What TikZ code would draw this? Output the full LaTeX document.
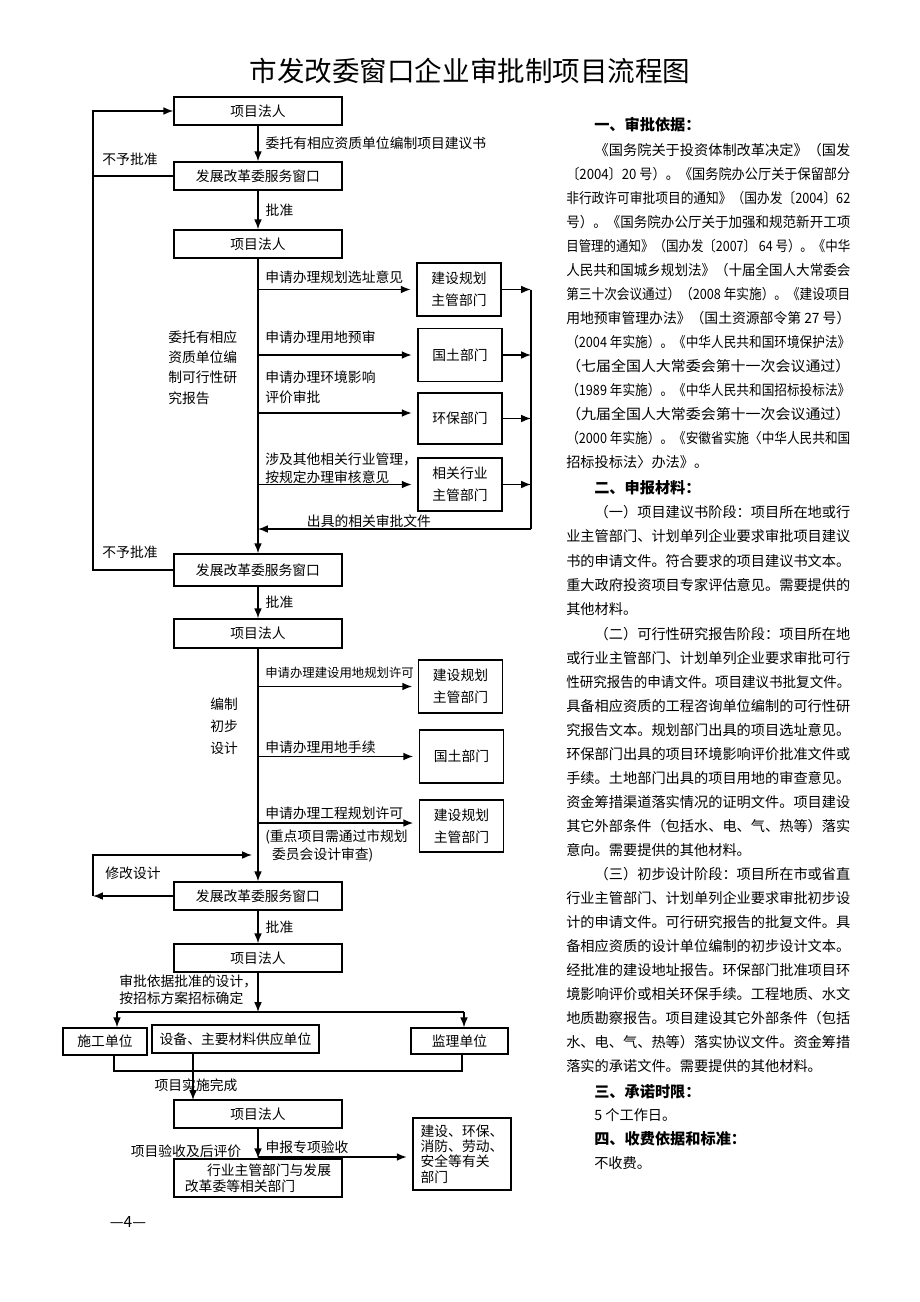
\documentclass[tikz,border=0pt]{standalone}
\usepackage{fontspec}
\usepackage{graphicx}
\setmainfont{Noto Sans CJK SC}
\usetikzlibrary{arrows.meta, positioning}

\newcommand\fcfont{\fontsize{9.8pt}{14pt}\selectfont}
\newcommand\txfont{\fontsize{10.1pt}{17.1pt}\selectfont}
\newcommand\hdfont{\fontsize{10.8pt}{13pt}\selectfont\bfseries}
\newcommand\fitline[1]{\resizebox{20em}{\height}{#1}}

\tikzset{
  flowbox/.style={draw, line width=1pt, minimum width=4.2cm, minimum height=0.7cm, inner sep=1pt, font=\fcfont},
  deptbox/.style={draw, line width=1pt, minimum width=2.1cm, minimum height=1.325cm, inner sep=1pt, align=center, font={\fontsize{9.8pt}{15.6pt}\selectfont}},
  arr/.style={-{Latex[length=7pt,width=5.5pt]}, line width=1pt},
  branch/.style={arr, shorten >=4pt},
  conn/.style={line width=1pt},
  lbl/.style={inner sep=0pt, font=\fcfont},
  para/.style={anchor=west, inner sep=0pt, align=left, font=\txfont},
  head/.style={anchor=west, inner sep=0pt, font=\hdfont},
}

\begin{document}
\begin{tikzpicture}[x=0.025cm, y=-0.025cm]
\fill[white] (0,0) rectangle (920,1302);
\useasboundingbox (0,0) rectangle (920,1302);

\node[inner sep=0pt, font={\fontsize{19.6pt}{22pt}\selectfont}] (title) at (470,71) {市发改委窗口企业审批制项目流程图};

% main column
\node[flowbox] (fr1) at (258,111) {项目法人};
\node[flowbox] (win1) at (258,176) {发展改革委服务窗口};
\node[flowbox] (fr2) at (258,244) {项目法人};
\node[flowbox, minimum height=0.8cm] (win2) at (258,570) {发展改革委服务窗口};
\node[flowbox, minimum height=0.725cm] (fr3) at (258,633.5) {项目法人};
\node[flowbox] (win3) at (258,896) {发展改革委服务窗口};
\node[flowbox] (fr4) at (258,958) {项目法人};
\node[flowbox] (fr5) at (258,1114) {项目法人};
\node[flowbox, minimum height=0.95cm, align=left, font={\fontsize{9.8pt}{11.6pt}\selectfont}] (ind) at (258,1178) {\hspace*{1.6em}行业主管部门与发展\\改革委等相关部门};

% departments
\node[deptbox] (plan1) at (459,289.5) {建设规划\\主管部门};
\node[deptbox] (land1) at (460,355) {国土部门};
\node[deptbox, minimum height=1.275cm] (env) at (460,418.5) {环保部门};
\node[deptbox] (trade) at (460,484.5) {相关行业\\主管部门};
\node[deptbox] (plan2) at (460.5,686.5) {建设规划\\主管部门};
\node[deptbox] (land2) at (461.5,756.5) {国土部门};
\node[deptbox, minimum height=1.3cm] (plan3) at (461.5,826) {建设规划\\主管部门};

% units
\node[flowbox, minimum width=2.1cm, minimum height=0.675cm] (build) at (105,1041.5) {施工单位};
\node[flowbox, minimum width=4.175cm] (supply) at (235.5,1039) {设备、主要材料供应单位};
\node[flowbox, minimum width=2.425cm, minimum height=0.65cm] (super) at (459.5,1041) {监理单位};
\node[deptbox, minimum width=2.45cm, minimum height=1.8cm, align=left, font={\fontsize{9.8pt}{10.9pt}\selectfont}] (accept) at (462,1154) {建设、环保、\\消防、劳动、\\安全等有关\\部门};

%connections: proposal stage
\draw[arr] (fr1) -- node[lbl, right=5pt] (ent1) {委托有相应资质单位编制项目建议书} (win1);
\draw[arr] (win1) -- node[lbl, right=5pt] (ok1) {批准} (fr2);
\coordinate (back) at (93,176);
\draw[arr] (win1.west) -- (back) |- (fr1.west);
\draw[conn] (win2.west) -| (back);
\node[lbl] (no1) at (130,159) {不予批准};
\node[lbl] (no2) at (130,552) {不予批准};

%connections: feasibility stage
\draw[arr] (fr2) -- (win2);
\draw[branch] (fr2.south |- plan1.west) -- (plan1.west);
\draw[branch] (fr2.south |- land1.west) -- (land1.west);
\draw[branch] (fr2.south |- 0,413) -- (env.west |- 0,413);
\draw[branch] (fr2.south |- trade.west) -- (trade.west);
\node[lbl, anchor=west] (ap1) at (265,277) {申请办理规划选址意见};
\node[lbl, anchor=west] (ap2) at (265,337) {申请办理用地预审};
\node[lbl, anchor=west, align=left, font={\fontsize{9.8pt}{14.6pt}\selectfont}] (ap3) at (265,387.5) {申请办理环境影响\\评价审批};
\node[lbl, anchor=west, align=left, font={\fontsize{9.8pt}{13pt}\selectfont}] (ap4) at (265,468.5) {涉及其他相关行业管理，\\按规定办理审核意见};
\node[lbl, anchor=west, align=left, font={\fontsize{9.8pt}{14.4pt}\selectfont}] (ent2) at (168,367.5) {委托有相应\\资质单位编\\制可行性研\\究报告};

\coordinate (rtop) at (531,289.5);
\coordinate (rbot) at (531,529);
\draw[arr] (plan1.east) -- (plan1.east -| rtop);
\draw[arr] (land1.east) -- (land1.east -| rtop);
\draw[arr] (env.east) -- (env.east -| rtop);
\draw[arr] (trade.east) -- (trade.east -| rtop);
\draw[conn] (rtop) -- (rbot);
\draw[arr] (rbot) -- (rbot -| fr2.south);
\node[lbl] (docs) at (369,521) {出具的相关审批文件};

%connections: preliminary design stage
\draw[arr] (win2) -- node[lbl, right=5pt] (ok2) {批准} (fr3);
\draw[arr] (fr3) -- (win3);
\draw[branch] (fr3.south |- plan2.west) -- (plan2.west);
\draw[branch] (fr3.south |- land2.west) -- (land2.west);
\draw[branch] (fr3.south |- 0,823) -- (plan3.west |- 0,823);
\node[lbl, anchor=west, font={\fontsize{8.8pt}{12pt}\selectfont}] (ap5) at (265,673) {申请办理建设用地规划许可};
\node[lbl, anchor=west] (ap6) at (265,747) {申请办理用地手续};
\node[lbl, anchor=west] (ap7) at (265,813) {申请办理工程规划许可};
\node[lbl, anchor=west, align=left, font={\fontsize{9.8pt}{12.8pt}\selectfont}] (note) at (265,846) {(重点项目需通过市规划\\\hspace*{0.5em}委员会设计审查)};
\node[lbl, anchor=west, align=left, font={\fontsize{9.8pt}{15.6pt}\selectfont}] (draft) at (210,726) {编制\\初步\\设计};

\coordinate (mod) at (93,896);
\coordinate (modin) at (252,855);
\draw[arr] (win3.west) -- (mod);
\draw[arr] (mod) |- (modin);
\node[lbl] (modl) at (133,873) {修改设计};

%connections: bidding and acceptance
\draw[arr] (win3) -- node[lbl, right=5pt] (ok3) {批准} (fr4);
\coordinate (spl) at (117,1012);
\coordinate (spr) at (464,1012);
\draw[arr] (fr4) -- (fr4.south |- spl);
\draw[conn] (spl) -- (spr);
\draw[arr] (spl) -- (spl |- build.north);
\draw[arr] (spr) -- (spr |- super.north);
\node[lbl, anchor=west, align=left, font={\fontsize{9.8pt}{12pt}\selectfont}] (rule) at (119,990) {审批依据批准的设计，\\按招标方案招标确定};

\coordinate (jl) at (114,1071);
\coordinate (jr) at (462,1071);
\draw[conn] (jl |- build.south) -- (jl) -- (jr) -- (jr |- super.south);
\coordinate (sx) at (193,1100);
\draw[arr] (supply.south -| sx) -- (sx);
\node[lbl] (done) at (196,1085) {项目实施完成};

\draw[arr] (fr5) -- (ind);
\coordinate (rep) at (258,1157);
\draw[branch] (rep) -- (rep -| accept.west);
\node[lbl] (repl) at (307,1147) {申报专项验收};
\node[lbl] (eval) at (186,1151) {项目验收及后评价};

\node[inner sep=0pt, font={\fontsize{11pt}{13pt}\selectfont}] (page) at (128,1222) {—4—};

% text column
\node[head] (h1) at (594,125) {一、审批依据：};
\node[para] (law) at (566,306) {\fitline{\hspace*{2em}《国务院关于投资体制改革决定》（国发}\\
\fitline{〔2004〕20 号）。《国务院办公厅关于保留部分}\\
\fitline{非行政许可审批项目的通知》（国办发〔2004〕62}\\
\fitline{号）。《国务院办公厅关于加强和规范新开工项}\\
\fitline{目管理的通知》（国办发〔2007〕 64 号）。《中华}\\
\fitline{人民共和国城乡规划法》（十届全国人大常委会}\\
\fitline{第三十次会议通过）（2008 年实施）。《建设项目}\\
\fitline{用地预审管理办法》（国土资源部令第 27 号）}\\
\fitline{（2004 年实施）。《中华人民共和国环境保护法》}\\
\fitline{（七届全国人大常委会第十一次会议通过）}\\
\fitline{（1989 年实施）。《中华人民共和国招标投标法》}\\
\fitline{（九届全国人大常委会第十一次会议通过）}\\
\fitline{（2000 年实施）。《安徽省实施〈中华人民共和国}\\
招标投标法〉办法》。};

\node[head] (h2) at (594,488) {二、申报材料：};
\node[para] (mat1) at (566,560.5) {\fitline{\hspace*{2em}（一）项目建议书阶段：项目所在地或行}\\
\fitline{业主管部门、计划单列企业要求审批项目建议}\\
\fitline{书的申请文件。符合要求的项目建议书文本。}\\
\fitline{重大政府投资项目专家评估意见。需要提供的}\\
其他材料。};
\node[para] (mat2) at (566,742) {\fitline{\hspace*{2em}（二）可行性研究报告阶段：项目所在地}\\
\fitline{或行业主管部门、计划单列企业要求审批可行}\\
\fitline{性研究报告的申请文件。项目建议书批复文件。}\\
\fitline{具备相应资质的工程咨询单位编制的可行性研}\\
\fitline{究报告文本。规划部门出具的项目选址意见。}\\
\fitline{环保部门出具的项目环境影响评价批准文件或}\\
\fitline{手续。土地部门出具的项目用地的审查意见。}\\
\fitline{资金筹措渠道落实情况的证明文件。项目建设}\\
\fitline{其它外部条件（包括水、电、气、热等）落实}\\
意向。需要提供的其他材料。};
\node[para] (mat3) at (566,970) {\fitline{\hspace*{2em}（三）初步设计阶段：项目所在市或省直}\\
\fitline{行业主管部门、计划单列企业要求审批初步设}\\
\fitline{计的申请文件。可行研究报告的批复文件。具}\\
\fitline{备相应资质的设计单位编制的初步设计文本。}\\
\fitline{经批准的建设地址报告。环保部门批准项目环}\\
\fitline{境影响评价或相关环保手续。工程地质、水文}\\
\fitline{地质勘察报告。项目建设其它外部条件（包括}\\
\fitline{水、电、气、热等）落实协议文件。资金筹措}\\
落实的承诺文件。需要提供的其他材料。};

\node[head] (h3) at (594,1092) {三、承诺时限：};
\node[para] (days) at (594,1115) {5 个工作日。};
\node[head] (h4) at (594,1139) {四、收费依据和标准：};
\node[para] (fee) at (594,1163) {不收费。};
\end{tikzpicture}
\end{document}
